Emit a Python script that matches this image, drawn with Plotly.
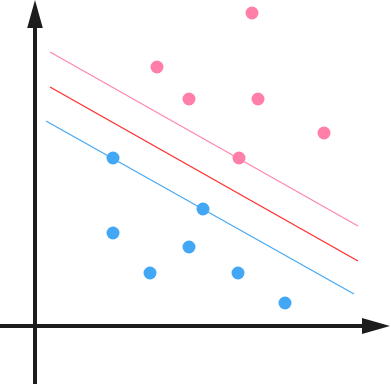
import plotly.graph_objects as go

# Data (units: origin at axis crossing)
pink_x = [21.7, 12.2, 15.4, 22.3, 28.9, 20.4]
pink_y = [31.3, 25.9, 22.7, 22.7, 19.3, 16.8]
blue_x = [7.8, 16.8, 7.8, 15.4, 11.5, 20.3, 25.0]
blue_y = [16.8, 11.7, 9.3, 7.9, 5.3, 5.3, 2.3]

upper_margin_x = [1.5, 32.3]
upper_margin_y = [27.4, 10.0]
boundary_x = [1.5, 32.3]
boundary_y = [23.9, 6.5]
lower_margin_x = [1.1, 31.9]
lower_margin_y = [20.5, 3.2]

X_RANGE = [-3.5, 35.6]
Y_RANGE = [-5.8, 32.6]
AXIS_COLOR = "#1c1c1c"

fig = go.Figure()
fig.add_trace(go.Scatter(x=upper_margin_x, y=upper_margin_y, mode="lines",
                         line=dict(color="#ff88ac", width=1.3), hoverinfo="skip"))
fig.add_trace(go.Scatter(x=boundary_x, y=boundary_y, mode="lines",
                         line=dict(color="#ff2d2d", width=1.3), hoverinfo="skip"))
fig.add_trace(go.Scatter(x=lower_margin_x, y=lower_margin_y, mode="lines",
                         line=dict(color="#48aaf5", width=1.3), hoverinfo="skip"))
fig.add_trace(go.Scatter(x=pink_x, y=pink_y, mode="markers",
                         marker=dict(color="#ff7fa9", size=13, line=dict(width=0))))
fig.add_trace(go.Scatter(x=blue_x, y=blue_y, mode="markers",
                         marker=dict(color="#42a8f5", size=13, line=dict(width=0))))

shapes = [
    # horizontal axis
    dict(type="line", x0=X_RANGE[0], y0=0, x1=32.8, y1=0,
         line=dict(color=AXIS_COLOR, width=4)),
    dict(type="path", path="M 32.7,0.8 L 35.5,0 L 32.7,-0.8 Z",
         fillcolor=AXIS_COLOR, line=dict(width=0)),
    # vertical axis
    dict(type="line", x0=0, y0=Y_RANGE[0], x1=0, y1=29.9,
         line=dict(color=AXIS_COLOR, width=4)),
    dict(type="path", path="M -0.78,29.8 L 0,32.6 L 0.78,29.8 Z",
         fillcolor=AXIS_COLOR, line=dict(width=0)),
]
for s in shapes:
    s["xref"] = "x"
    s["yref"] = "y"

fig.update_layout(
    width=391, height=384,
    margin=dict(l=0, r=0, t=0, b=0),
    plot_bgcolor="white", paper_bgcolor="white",
    showlegend=False,
    shapes=shapes,
    xaxis=dict(range=X_RANGE, visible=False, showgrid=False, zeroline=False),
    yaxis=dict(range=Y_RANGE, visible=False, showgrid=False, zeroline=False),
)
fig.write_html(
    "out.html",
    config={"displayModeBar": False},
    post_script="document.body.style.margin='0';document.body.style.overflow='hidden';",
)
